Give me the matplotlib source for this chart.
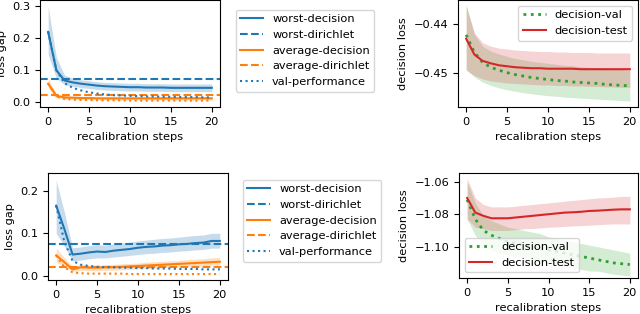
import matplotlib.pyplot as plt
import numpy as np

plt.rcParams["font.size"] = 8.2

steps = np.arange(21)

# top row
top_worst = [0.22, 0.10, 0.068, 0.062, 0.058, 0.055, 0.052, 0.050, 0.049, 0.048, 0.047,
             0.047, 0.046, 0.046, 0.046, 0.045, 0.045, 0.045, 0.045, 0.045, 0.045]
top_worst_lo = [0.15, 0.075, 0.055, 0.05, 0.046, 0.043, 0.040, 0.038, 0.037, 0.036, 0.035,
                0.035, 0.034, 0.034, 0.034, 0.033, 0.033, 0.033, 0.033, 0.033, 0.033]
top_worst_hi = [0.30, 0.14, 0.085, 0.075, 0.07, 0.067, 0.064, 0.062, 0.061, 0.060, 0.059,
                0.059, 0.058, 0.058, 0.058, 0.057, 0.057, 0.057, 0.057, 0.057, 0.057]
top_worst_dir = 0.072
top_avg = [0.058, 0.02, 0.015, 0.014, 0.013, 0.013, 0.012, 0.012, 0.012, 0.012, 0.012,
           0.012, 0.012, 0.012, 0.012, 0.012, 0.012, 0.012, 0.012, 0.012, 0.012]
top_avg_lo = [0.045, 0.014, 0.010, 0.009, 0.008, 0.008, 0.007, 0.007, 0.007, 0.007, 0.007,
              0.007, 0.007, 0.007, 0.007, 0.007, 0.007, 0.007, 0.007, 0.007, 0.007]
top_avg_hi = [0.075, 0.026, 0.020, 0.019, 0.018, 0.018, 0.017, 0.017, 0.017, 0.017, 0.017,
              0.017, 0.017, 0.017, 0.017, 0.017, 0.017, 0.017, 0.017, 0.017, 0.017]
top_avg_dir = 0.022
top_val_worst = [0.22, 0.10, 0.06, 0.045, 0.037, 0.031, 0.027, 0.024, 0.022, 0.021, 0.020,
                 0.019, 0.018, 0.018, 0.017, 0.017, 0.016, 0.016, 0.016, 0.015, 0.015]
top_val_avg = [0.058, 0.018, 0.010, 0.008, 0.007, 0.007, 0.006, 0.006, 0.006, 0.006, 0.005,
               0.005, 0.005, 0.005, 0.005, 0.005, 0.005, 0.005, 0.005, 0.005, 0.005]

top_test = [-0.4430, -0.4462, -0.4475, -0.4480, -0.4484, -0.4486, -0.4488, -0.4489, -0.4490, -0.4490, -0.4491,
            -0.4491, -0.4491, -0.4491, -0.4492, -0.4492, -0.4492, -0.4492, -0.4492, -0.4492, -0.4492]
top_test_lo = [-0.4494, -0.4505, -0.4512, -0.4516, -0.4518, -0.4520, -0.4521, -0.4522, -0.4523, -0.4524, -0.4524,
               -0.4525, -0.4525, -0.4526, -0.4526, -0.4527, -0.4527, -0.4528, -0.4528, -0.4529, -0.4529]
top_test_hi = [-0.4363, -0.4418, -0.4438, -0.4445, -0.4449, -0.4451, -0.4453, -0.4454, -0.4455, -0.4456, -0.4456,
               -0.4457, -0.4457, -0.4458, -0.4458, -0.4458, -0.4459, -0.4459, -0.4459, -0.4459, -0.4459]
top_val = [-0.4422, -0.4458, -0.4478, -0.4488, -0.4494, -0.4499, -0.4503, -0.4506, -0.4509, -0.4511, -0.4513,
           -0.4515, -0.4516, -0.4518, -0.4519, -0.4520, -0.4521, -0.4523, -0.4524, -0.4525, -0.4526]
top_val_lo = [-0.4492, -0.4508, -0.4518, -0.4525, -0.4530, -0.4534, -0.4537, -0.4540, -0.4542, -0.4544, -0.4546,
              -0.4547, -0.4549, -0.4550, -0.4551, -0.4552, -0.4553, -0.4554, -0.4555, -0.4556, -0.4557]
top_val_hi = [-0.4362, -0.4420, -0.4445, -0.4455, -0.4461, -0.4466, -0.4470, -0.4473, -0.4476, -0.4478, -0.4480,
              -0.4482, -0.4484, -0.4485, -0.4487, -0.4488, -0.4489, -0.4491, -0.4492, -0.4493, -0.4495]

# bottom row
bot_worst = [0.165, 0.11, 0.05, 0.052, 0.055, 0.057, 0.056, 0.059, 0.061, 0.063, 0.066,
             0.068, 0.069, 0.071, 0.072, 0.074, 0.075, 0.077, 0.078, 0.082, 0.082]
bot_worst_lo = [0.10, 0.07, 0.035, 0.037, 0.040, 0.042, 0.042, 0.044, 0.046, 0.048, 0.050,
                0.052, 0.053, 0.055, 0.056, 0.058, 0.059, 0.061, 0.062, 0.065, 0.065]
bot_worst_hi = [0.225, 0.15, 0.066, 0.068, 0.071, 0.073, 0.072, 0.075, 0.077, 0.079, 0.082,
                0.084, 0.086, 0.088, 0.089, 0.091, 0.093, 0.095, 0.096, 0.100, 0.100]
bot_worst_dir = 0.074
bot_avg = [0.048, 0.032, 0.015, 0.020, 0.019, 0.019, 0.020, 0.020, 0.021, 0.022, 0.023,
           0.024, 0.025, 0.026, 0.027, 0.028, 0.029, 0.030, 0.031, 0.032, 0.033]
bot_avg_lo = [0.032, 0.022, 0.010, 0.013, 0.012, 0.012, 0.013, 0.013, 0.014, 0.015, 0.016,
              0.017, 0.018, 0.019, 0.020, 0.021, 0.022, 0.023, 0.024, 0.025, 0.025]
bot_avg_hi = [0.065, 0.043, 0.021, 0.026, 0.025, 0.025, 0.026, 0.027, 0.028, 0.029, 0.030,
              0.032, 0.033, 0.034, 0.035, 0.036, 0.038, 0.039, 0.040, 0.042, 0.043]
bot_avg_dir = 0.021
bot_val_worst = [0.165, 0.08, 0.035, 0.026, 0.023, 0.021, 0.020, 0.020, 0.019, 0.019, 0.018,
                 0.018, 0.017, 0.017, 0.017, 0.016, 0.016, 0.016, 0.015, 0.015, 0.015]
bot_val_avg = [0.048, 0.020, 0.008, 0.006, 0.005, 0.005, 0.005, 0.005, 0.005, 0.004, 0.004,
               0.004, 0.004, 0.004, 0.004, 0.004, 0.004, 0.004, 0.004, 0.004, 0.004]

bot_test = [-1.070, -1.079, -1.081, -1.0825, -1.0825, -1.0825, -1.082, -1.0815, -1.081, -1.0805, -1.080,
            -1.0795, -1.079, -1.0788, -1.0785, -1.078, -1.0778, -1.0775, -1.0772, -1.077, -1.077]
bot_test_lo = [-1.083, -1.088, -1.089, -1.090, -1.090, -1.090, -1.0895, -1.089, -1.0888, -1.0885, -1.088,
               -1.0878, -1.0875, -1.0872, -1.087, -1.0868, -1.0865, -1.0862, -1.086, -1.086, -1.086]
bot_test_hi = [-1.058, -1.070, -1.074, -1.0755, -1.0755, -1.0755, -1.075, -1.0745, -1.074, -1.0735, -1.073,
               -1.0725, -1.072, -1.0715, -1.071, -1.0705, -1.070, -1.0698, -1.0695, -1.069, -1.069]
bot_val = [-1.071, -1.083, -1.090, -1.093, -1.095, -1.097, -1.098, -1.099, -1.100, -1.101, -1.102,
           -1.103, -1.104, -1.105, -1.106, -1.107, -1.108, -1.109, -1.110, -1.1105, -1.111]
bot_val_lo = [-1.083, -1.093, -1.099, -1.102, -1.104, -1.105, -1.106, -1.107, -1.108, -1.109, -1.110,
              -1.111, -1.112, -1.113, -1.114, -1.115, -1.115, -1.116, -1.117, -1.1175, -1.118]
bot_val_hi = [-1.060, -1.073, -1.081, -1.084, -1.086, -1.088, -1.089, -1.090, -1.091, -1.092, -1.094,
              -1.095, -1.096, -1.097, -1.098, -1.099, -1.100, -1.101, -1.102, -1.103, -1.104]


W, H = 640, 314
fig = plt.figure(figsize=(W / 100, H / 100), dpi=100)


def box(x0, y0, x1, y1):
    return [x0 / W, 1 - y1 / H, (x1 - x0) / W, (y1 - y0) / H]


def gap_plot(ax, worst, wlo, whi, wdir, avg, alo, ahi, adir, vw, va):
    ax.plot(steps, worst, color="tab:blue", label="worst-decision")
    ax.fill_between(steps, wlo, whi, color="tab:blue", alpha=0.25, lw=0)
    ax.axhline(wdir, color="tab:blue", ls="--", label="worst-dirichlet")
    ax.plot(steps, avg, color="tab:orange", label="average-decision")
    ax.fill_between(steps, alo, ahi, color="tab:orange", alpha=0.25, lw=0)
    ax.axhline(adir, color="tab:orange", ls="--", label="average-dirichlet")
    ax.plot(steps, vw, color="tab:blue", ls=":", label="val-performance")
    ax.plot(steps, va, color="tab:orange", ls=":")
    ax.set_xticks([0, 5, 10, 15, 20])
    ax.set_xlabel("recalibration steps")
    ax.set_ylabel("loss gap")
    return ax.get_legend_handles_labels()


def dec_plot(ax, val, vlo, vhi, test, tlo, thi, loc):
    ax.plot(steps, val, color="tab:green", ls=":", lw=2, label="decision-val")
    ax.fill_between(steps, vlo, vhi, color="tab:green", alpha=0.2, lw=0)
    ax.plot(steps, test, color="tab:red", label="decision-test")
    ax.fill_between(steps, tlo, thi, color="tab:red", alpha=0.2, lw=0)
    ax.set_xticks([0, 5, 10, 15, 20])
    ax.set_xlabel("recalibration steps")
    ax.set_ylabel("decision loss")
    ax.legend(loc=loc)


ax1 = fig.add_axes(box(40, 0, 220, 107))
h, l = gap_plot(ax1, top_worst, top_worst_lo, top_worst_hi, top_worst_dir,
                top_avg, top_avg_lo, top_avg_hi, top_avg_dir, top_val_worst, top_val_avg)
ax1.set_ylim(-0.015, 0.32)
ax1.set_yticks([0.0, 0.1, 0.2, 0.3])
fig.legend(h, l, loc="upper left", bbox_to_anchor=(230 / W, 1 - 4 / H))

ax2 = fig.add_axes(box(458, 0, 638, 107))
dec_plot(ax2, top_val, top_val_lo, top_val_hi, top_test, top_test_lo, top_test_hi, "upper right")
ax2.set_ylim(-0.4569, -0.4351)
ax2.set_yticks([-0.44, -0.45])

ax3 = fig.add_axes(box(48, 173, 228, 280))
h, l = gap_plot(ax3, bot_worst, bot_worst_lo, bot_worst_hi, bot_worst_dir,
                bot_avg, bot_avg_lo, bot_avg_hi, bot_avg_dir, bot_val_worst, bot_val_avg)
ax3.set_ylim(-0.01, 0.242)
ax3.set_yticks([0.0, 0.1, 0.2])
fig.legend(h, l, loc="upper left", bbox_to_anchor=(237 / W, 1 - 174 / H))

ax4 = fig.add_axes(box(459, 173, 638, 278))
dec_plot(ax4, bot_val, bot_val_lo, bot_val_hi, bot_test, bot_test_lo, bot_test_hi, "lower left")
ax4.set_ylim(-1.1193, -1.0546)
ax4.set_yticks([-1.06, -1.08, -1.10])

fig.savefig("out.png", dpi=100)
